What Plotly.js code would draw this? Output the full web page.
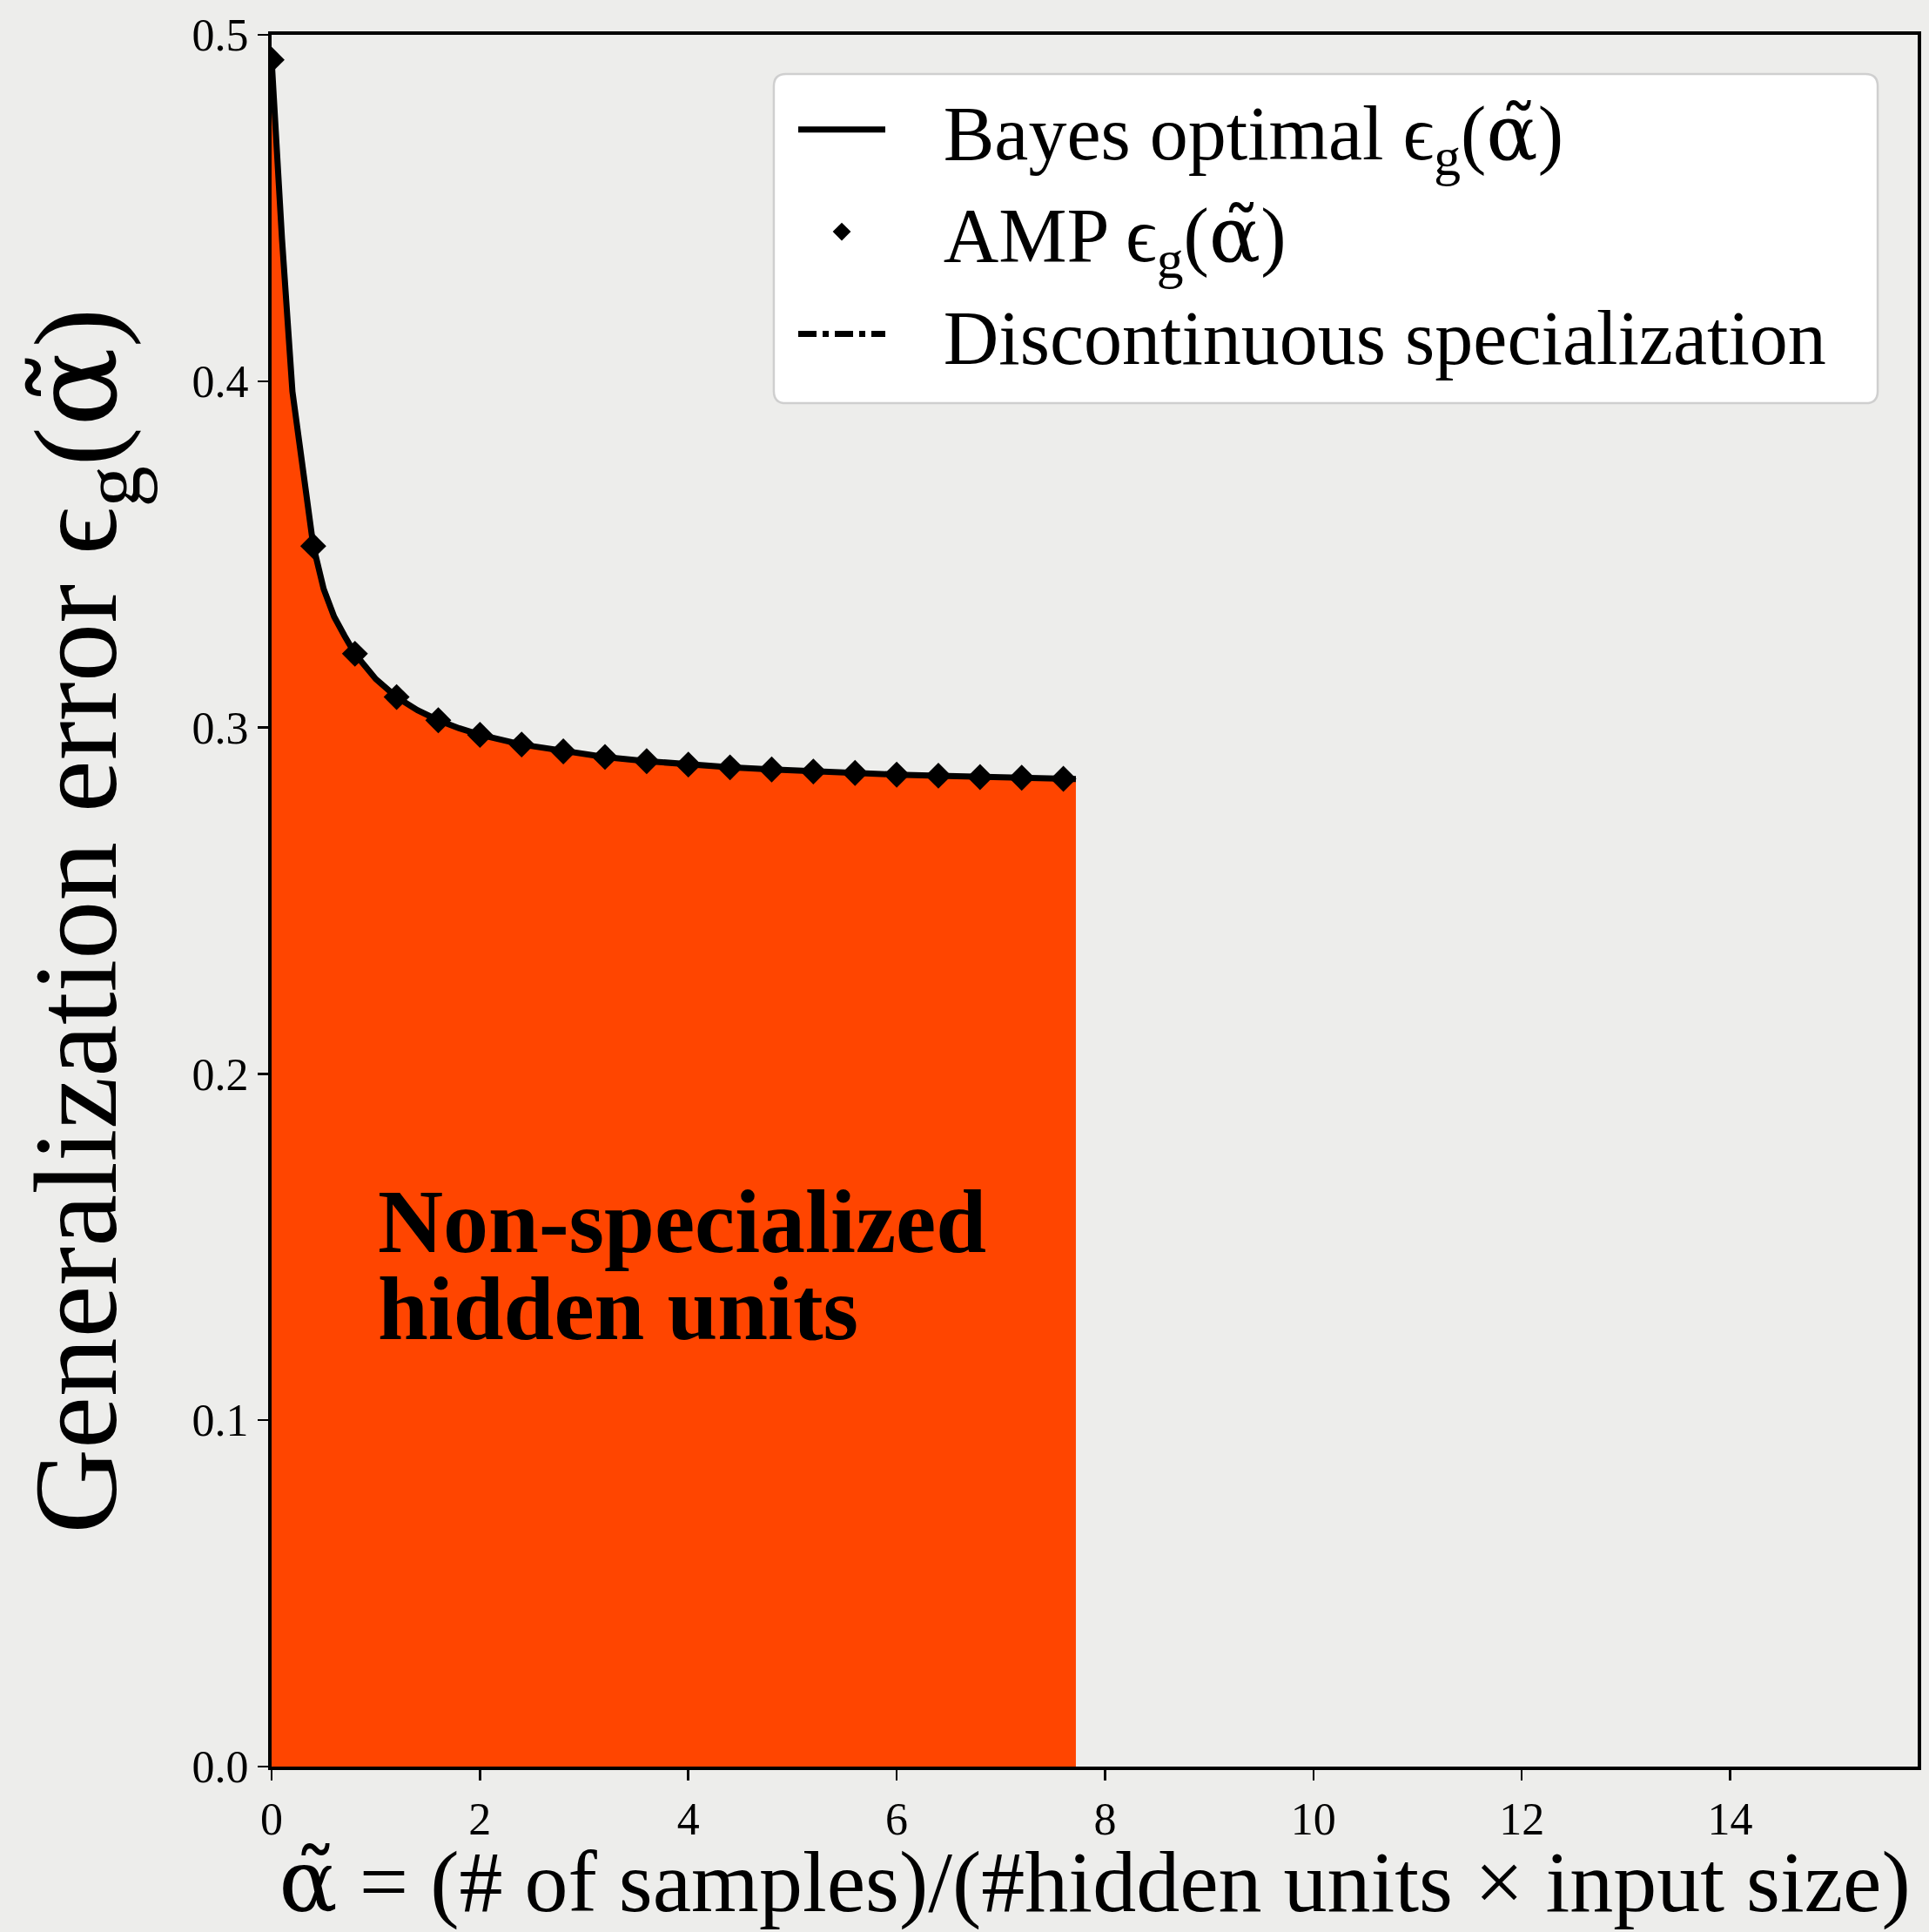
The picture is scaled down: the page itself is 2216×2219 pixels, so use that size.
<!DOCTYPE html>
<html>
<head>
<meta charset="utf-8">
<script src="https://cdn.plot.ly/plotly-3.0.1.min.js"></script>
<style>html,body{margin:0;padding:0;background:#ededeb;}</style>
</head>
<body>
<div id="chart" style="width:2216px;height:2219px;"></div>
<script>
// Bayes optimal generalization error curve
const curveX = [0, 0.1, 0.2, 0.3, 0.4, 0.5, 0.6, 0.7, 0.8, 1.0, 1.2, 1.4, 1.6, 1.8, 2.0, 2.4, 2.8, 3.2, 3.6, 4.0, 4.4, 4.8, 5.2, 5.6, 6.0, 6.4, 6.8, 7.2, 7.6, 7.72];
const curveY = [0.493, 0.441, 0.397, 0.373, 0.3525, 0.340, 0.332, 0.3265, 0.3213, 0.3140, 0.3088, 0.3050, 0.3021, 0.2998, 0.2979, 0.2951, 0.2931, 0.2915, 0.2903, 0.2893, 0.2885, 0.2879, 0.2873, 0.2869, 0.2864, 0.2861, 0.2857, 0.2855, 0.2852, 0.2851];
// AMP points
const ampX = [0, 0.4, 0.8, 1.2, 1.6, 2.0, 2.4, 2.8, 3.2, 3.6, 4.0, 4.4, 4.8, 5.2, 5.6, 6.0, 6.4, 6.8, 7.2, 7.6];
const ampY = [0.4928, 0.3524, 0.3213, 0.3088, 0.3021, 0.2979, 0.2951, 0.2931, 0.2915, 0.2903, 0.2893, 0.2885, 0.2879, 0.2873, 0.2869, 0.2864, 0.2861, 0.2857, 0.2855, 0.2852];
// Discontinuous specialization (no point inside the visible range)
const specX = [null];
const specY = [null];
const xTicks = [0, 2, 4, 6, 8, 10, 12, 14];
const yTicks = [0.0, 0.1, 0.2, 0.3, 0.4, 0.5];
const annLines = ['Non-specialized', 'hidden units'];
const annY = [0.1576, 0.1324];

const serif = 'Liberation Serif, Times New Roman, serif';
const alphaT = '<span style="font-family:DejaVu Serif">α̃</span>';
const gap = '\u2002\u2009';
const data = [
  {x: curveX, y: curveY, type: 'scatter', mode: 'lines', fill: 'tozeroy',
   fillcolor: '#ff4500', line: {width: 0, color: '#ff4500'}, showlegend: false, hoverinfo: 'skip'},
  {x: curveX, y: curveY, type: 'scatter', mode: 'lines', name: gap + 'Bayes optimal ϵ<sub>g</sub>(' + alphaT + ')',
   line: {color: '#000000', width: 7}},
  {x: ampX, y: ampY, type: 'scatter', mode: 'markers', name: gap + 'AMP ϵ<sub>g</sub>(' + alphaT + ')',
   marker: {symbol: 'diamond', size: 23, color: '#000000'}},
  {x: specX, y: specY, type: 'scatter', mode: 'lines', name: gap + 'Discontinuous specialization',
   line: {color: '#000000', width: 7, dash: 'dashdot'}}
];

// rounded legend frame (paper coordinates)
const fx0 = 0.3051, fx1 = 0.9757, fyT = 0.9774, fyB = 0.7873, rx = 0.0074, ry = 0.0070;
const framePath = `M${fx0+rx},${fyT} L${fx1-rx},${fyT} Q${fx1},${fyT} ${fx1},${fyT-ry} L${fx1},${fyB+ry} Q${fx1},${fyB} ${fx1-rx},${fyB} L${fx0+rx},${fyB} Q${fx0},${fyB} ${fx0},${fyB+ry} L${fx0},${fyT-ry} Q${fx0},${fyT} ${fx0+rx},${fyT} Z`;

const annotations = annLines.map((t, i) => ({x: 1.0, y: annY[i], xref: 'x', yref: 'y', xanchor: 'left', yanchor: 'middle',
    showarrow: false, text: '<b>' + t + '</b>', font: {family: serif, size: 104, color: '#000000'}}));
annotations.push({x: -0.115, y: 0.4882, xref: 'paper', yref: 'paper', xanchor: 'center', yanchor: 'middle',
    textangle: -90, showarrow: false, text: 'Generalization error ϵ<sub>g</sub>(' + alphaT + ')',
    font: {family: serif, size: 135, color: '#000000'}});

const layout = {
  width: 2216, height: 2219,
  margin: {l: 312, r: 13, t: 40, b: 190},
  paper_bgcolor: '#ededeb', plot_bgcolor: '#ededeb',
  font: {family: serif, color: '#000000', size: 52},
  showlegend: true,
  legend: {x: 0.3173, y: 0.9774, xanchor: 'left', yanchor: 'top',
    bgcolor: 'rgba(0,0,0,0)', borderwidth: 0,
    font: {family: serif, size: 88, color: '#000000'}, itemwidth: 100, tracegroupgap: 0},
  shapes: [{type: 'path', xref: 'paper', yref: 'paper', path: framePath,
    fillcolor: '#ffffff', line: {color: '#cfcfcf', width: 2.5}, layer: 'above'}],
  xaxis: {range: [0, 15.8], tickvals: xTicks, ticktext: xTicks.map(String),
    ticks: 'outside', ticklen: 12, tickwidth: 2.5, tickcolor: '#000',
    showline: true, linecolor: '#000', linewidth: 4, mirror: true,
    showgrid: false, zeroline: false, tickfont: {family: serif, size: 52},
    title: {text: alphaT + ' = (# of samples)/(#hidden units × input size)', font: {family: serif, size: 100}, standoff: 10},
    automargin: false},
  yaxis: {range: [0, 0.5], tickvals: yTicks, ticktext: yTicks.map(v => v.toFixed(1)),
    ticks: 'outside', ticklen: 12, tickwidth: 2.5, tickcolor: '#000',
    showline: true, linecolor: '#000', linewidth: 4, mirror: true,
    showgrid: false, zeroline: false, tickfont: {family: serif, size: 52},
    automargin: false},
  annotations: annotations
};

Plotly.newPlot('chart', data, layout, {displayModeBar: false, staticPlot: true});
</script>
</body>
</html>
